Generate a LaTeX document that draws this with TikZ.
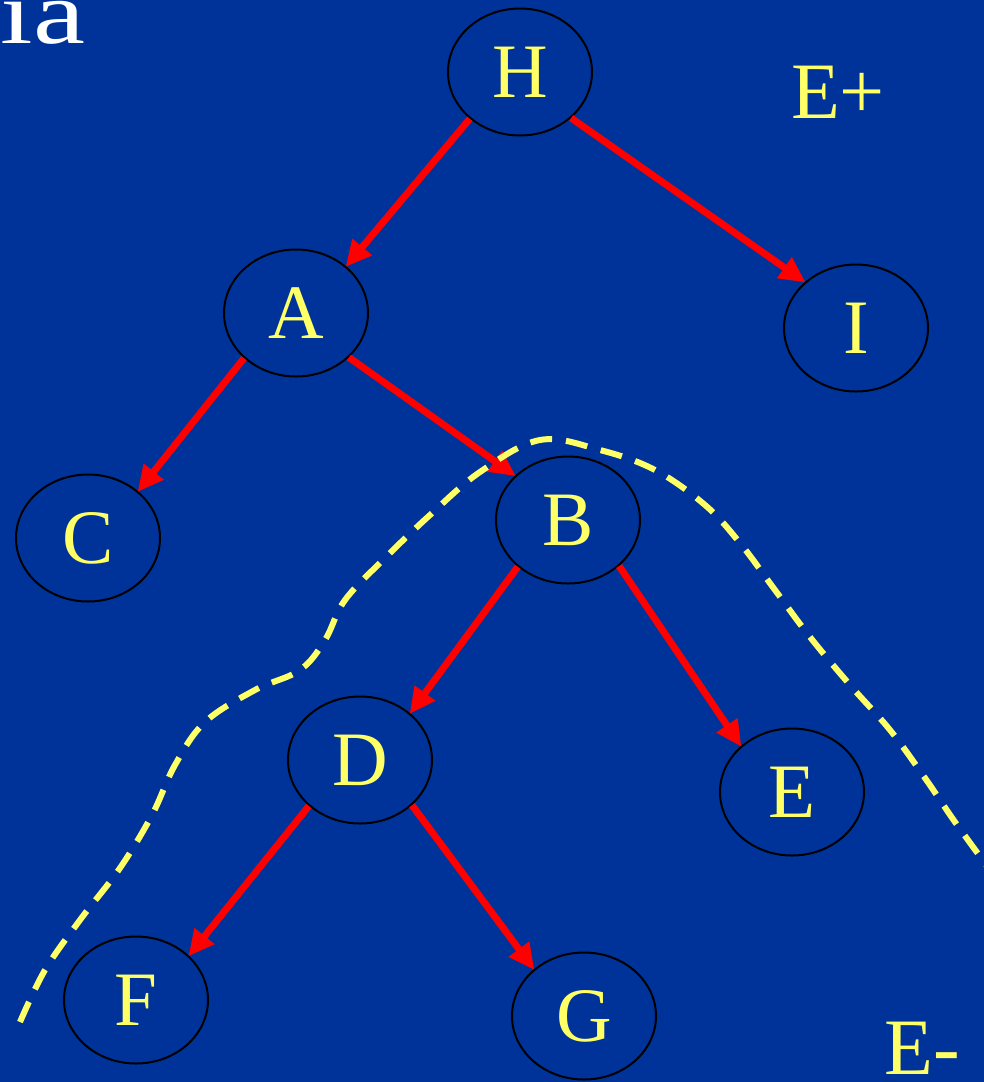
\documentclass[tikz,border=0pt]{standalone}
\usepackage{fontspec}
\setmainfont{Liberation Serif}
\usetikzlibrary{arrows.meta,shapes.geometric}
\definecolor{slideblue}{RGB}{0,51,153}
\definecolor{slideyellow}{RGB}{255,255,102}
\tikzset{
	vertex/.style={ellipse,draw=black,line width=2pt,minimum width=144pt,minimum height=127pt,inner sep=0pt,text=slideyellow,font=\fontsize{77}{80}\selectfont},
	branch/.style={draw=red,line width=7pt,-{Triangle[length=26pt,width=24pt]},shorten >=-1pt},
	cut/.style={draw=slideyellow,line width=6pt,dash pattern=on 22pt off 14pt},
	side/.style={text=slideyellow,font=\fontsize{80}{84}\selectfont}
}
\begin{document}
\begin{tikzpicture}[x=1pt,y=-1pt]
		\fill[slideblue] (0,0) rectangle (984,1082);
		\useasboundingbox (0,0) rectangle (984,1082);
		\node[anchor=base east,text=white,font=\fontsize{90}{96}\selectfont,xscale=1.3] (title) at (90,43) {ia};
		\node[vertex] (H) at (520,72) {H};
		\node[vertex] (A) at (296,313) {A};
		\node[vertex] (I) at (856,328) {I};
		\node[vertex] (C) at (88,538) {C};
		\node[vertex] (B) at (568,520) {B};
		\node[vertex] (D) at (360,760) {D};
		\node[vertex] (E) at (792,792) {E};
		\node[vertex] (F) at (136,1000) {F};
		\node[vertex] (G) at (584,1016) {G};
		\node[side] (Eplus) at (838,92) {E+};
		\node[side] (Eminus) at (922,1048) {E-};
		\draw[branch] (H.223) -- (A.43);
		\draw[branch] (H.318) -- (I.138);
		\draw[branch] (A.221) -- (C.43);
		\draw[branch] (A.320) -- (B.140);
		\draw[branch] (B.223) -- (D.43);
		\draw[branch] (B.318) -- (E.138);
		\draw[branch] (D.222) -- (F.40);
		\draw[branch] (D.319) -- (G.137);
		% the cut between E+ and E-
		\draw[cut] plot[smooth,tension=0.6] coordinates {(20,1022) (45,970) (80,920) (120,868) (152,815) (175,765) (205,722) (255,690) (300,670) (325,640) (345,600) (385,558) (430,515) (480,472) (540,440) (600,450) (655,470) (705,505) (740,543) (775,590) (810,637) (850,685) (890,730) (925,778) (955,822) (990,870)};
\end{tikzpicture}
\end{document}
